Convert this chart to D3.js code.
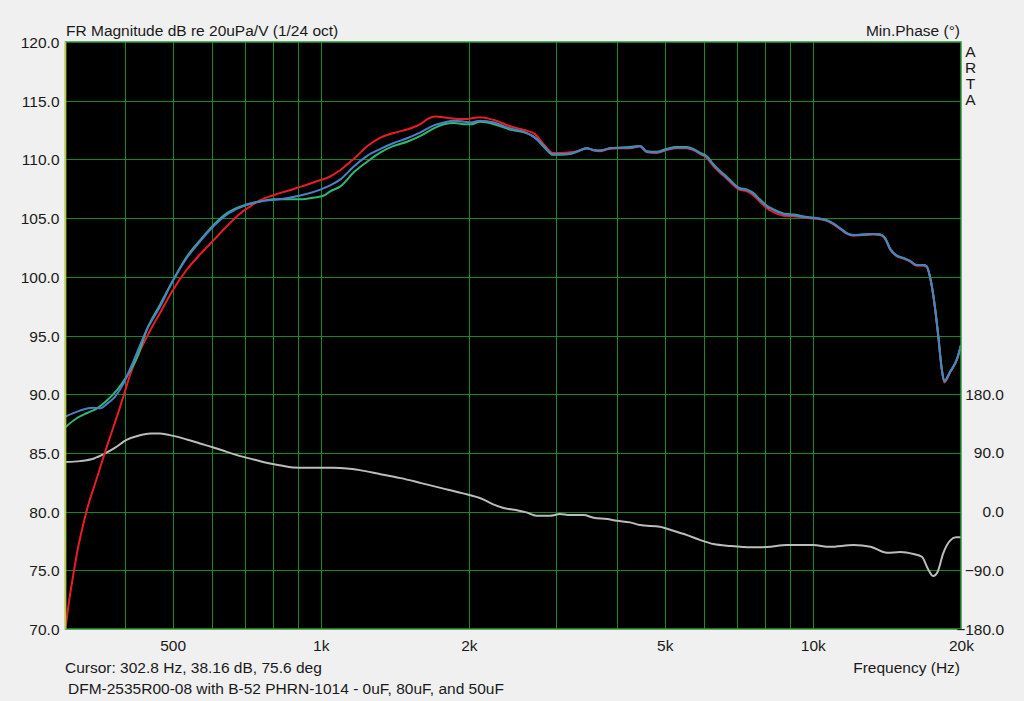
<!DOCTYPE html>
<html><head><meta charset="utf-8">
<script src="https://cdn.jsdelivr.net/npm/d3@7"></script>
<style>
body{margin:0;background:#f0f0f0;}
svg{display:block;}
text{font-family:"Liberation Sans",Arial,sans-serif;font-size:15.5px;fill:#1a1a1a;}
</style>
</head><body><svg id="c" width="1024" height="701"></svg>
<script>
// ---------- data ----------
const dbTicks = [70,75,80,85,90,95,100,105,110,115,120];
const phaseTicks = [-180,-90,0,90,180];
const freqTicks = [500,1000,2000,5000,10000,20000];
const freqTickLabels = ["500","1k","2k","5k","10k","20k"];
const gridFreqs = [400,500,600,700,800,900,1000,2000,3000,4000,5000,6000,7000,8000,9000,10000];

// high-frequency section shared frequencies
const highFreq = [3312,3471,3580,3693,3869,4057,4251,4454,4596,4813,5047,5287,5539,5711,5908,6096,6285,6484,6667,6879,7098,7323,7560,7800,8064,8317,8712,9140,9430,9732,10175,10697,11032,11380,11737,12105,12675,13270,13690,14018,14345,14800,15270,15750,16240,16750,17030,17300,17630,17960,18260,18500,19000,19650,20000];
const highBlue = [110.65,110.95,110.8,110.75,110.95,111.0,111.0,111.15,110.65,110.6,110.85,111.0,111.0,110.85,110.5,110.2,109.5,108.95,108.5,107.95,107.5,107.4,107.1,106.55,106.0,105.7,105.35,105.25,105.15,105.05,104.98,104.8,104.5,104.1,103.7,103.55,103.6,103.65,103.6,103.3,102.4,101.8,101.6,101.35,101.0,101.0,100.9,100.0,98.0,95.2,92.3,91.1,91.9,93.05,94.2];
const highRed = [110.7,110.95,110.75,110.7,110.9,110.95,110.95,111.1,110.6,110.55,110.8,110.95,110.95,110.8,110.45,110.1,109.4,108.85,108.4,107.85,107.4,107.3,106.95,106.4,105.85,105.5,105.2,105.15,105.1,105.0,104.95,104.75,104.45,104.05,103.65,103.5,103.55,103.6,103.55,103.25,102.35,101.75,101.55,101.3,100.95,100.95,100.85,99.95,97.9,95.1,92.2,91.0,91.85,93.0,94.15];
const highGreen = [110.65,110.95,110.8,110.75,110.95,111.0,111.05,111.15,110.7,110.65,110.9,111.05,111.05,110.9,110.55,110.25,109.55,109.0,108.55,108.0,107.55,107.45,107.15,106.6,106.05,105.75,105.4,105.3,105.2,105.1,105.0,104.8,104.5,104.1,103.7,103.55,103.6,103.65,103.6,103.3,102.4,101.8,101.6,101.35,101.0,101.0,100.9,100.0,98.0,95.2,92.3,91.1,91.9,93.05,94.2];

const redFreq = [302.8,307,314,321,329,337,346,354,362,374,386,397,410,429,451,471,501,534,568,605,644,686,719,751,800,860,915,975,1040,1096,1167,1250,1322,1407,1497,1594,1650,1710,1800,1900,1979,2106,2250,2419,2590,2717,2850,2960,3062,3209];
const redDb = [70.0,72.0,74.6,76.9,78.9,80.6,82.1,83.4,84.7,86.5,88.2,89.8,91.7,93.7,95.5,96.9,98.9,100.6,101.9,103.1,104.3,105.4,106.0,106.5,106.95,107.35,107.7,108.1,108.5,109.1,110.05,111.2,111.85,112.25,112.55,113.0,113.45,113.65,113.55,113.45,113.45,113.6,113.35,112.85,112.5,112.2,111.2,110.55,110.55,110.6];

const blueFreq = [302.8,324,344,356,368,382,397,416,443,471,501,534,568,605,644,685,729,775,824,877,935,995,1047,1096,1167,1242,1322,1407,1497,1594,1697,1780,1867,1958,2022,2106,2250,2419,2590,2717,2850,2960,3062,3209];
const blueDb = [88.1,88.6,88.85,88.8,89.2,89.8,90.9,92.8,95.5,97.45,99.7,101.6,103.0,104.3,105.3,105.9,106.3,106.5,106.6,106.8,107.05,107.4,107.8,108.3,109.4,110.3,110.9,111.4,111.8,112.3,112.9,113.15,113.3,113.2,113.15,113.3,113.15,112.65,112.35,111.9,111.1,110.45,110.45,110.5];

const greenFreq = [302.8,319,335,351,366,386,403,424,443,471,501,534,568,605,644,670,700,751,800,850,910,970,1012,1047,1096,1167,1242,1322,1407,1497,1594,1697,1780,1867,1958,2022,2106,2250,2419,2590,2717,2850,2960,3062,3209];
const greenDb = [87.2,87.95,88.4,88.8,89.4,90.4,91.5,93.2,95.5,97.6,99.7,101.7,103.1,104.4,105.4,105.8,106.1,106.4,106.6,106.6,106.6,106.75,106.9,107.3,107.7,108.9,109.8,110.6,111.15,111.5,112.0,112.65,113.0,113.1,113.0,113.0,113.2,113.0,112.55,112.3,111.9,111.0,110.4,110.4,110.45];

const phaseFreq = [302.8,324,346,362,380,402,429,451,471,501,534,568,605,644,686,730,775,824,877,935,995,1060,1130,1200,1322,1454,1600,1760,1935,2132,2235,2343,2497,2617,2743,2920,3060,3209,3420,3584,3818,3999,4251,4454,4887,5208,5550,5908,6285,6800,7495,8064,8850,10010,10820,12100,13100,14150,15060,16010,16650,17180,17560,17930,18400,19050,19550,20000];
const phaseDeg = [76,77.4,81.5,88,96.8,109.5,117.2,119.8,119.8,116.1,110.6,104.5,98.3,91.6,85,80,74.8,71.2,67.7,67.1,67.1,67.1,66.2,63.6,57.4,51.3,43.7,36.0,28.3,19.1,11.5,5.8,2.3,-1.2,-6.4,-6.4,-3.8,-5.4,-5.4,-9.5,-11.5,-14.1,-16.5,-20.7,-23.3,-29.4,-36,-43.7,-49.8,-52.8,-54.8,-54.4,-51.3,-51.3,-53.9,-51.3,-53.9,-63.1,-62,-65.1,-69.2,-89.6,-98.8,-92.2,-64,-43.7,-39.5,-39.5];

// ---------- layout ----------
const L=65.5, R=961, T=42, B=629;
const svg = d3.select("#c");
const x = d3.scaleLog().domain([302.8,20000]).range([L,R]);
const y = d3.scaleLinear().domain([70,120]).range([B,T]);
const yp = d3.scaleLinear().domain([-180,180]).range([B,y(90)]);

svg.append("rect").attr("x",L).attr("y",T).attr("width",R-L).attr("height",B-T).attr("fill","#000");

const grid = svg.append("g").attr("stroke","#138a26").attr("stroke-width",1).attr("shape-rendering","crispEdges");
grid.selectAll("line.v").data(gridFreqs).join("line").attr("class","v")
  .attr("x1",d=>Math.round(x(d))+0.5).attr("x2",d=>Math.round(x(d))+0.5).attr("y1",T).attr("y2",B);
grid.selectAll("line.h").data(dbTicks.slice(1,-1)).join("line").attr("class","h")
  .attr("x1",L).attr("x2",R).attr("y1",d=>Math.round(y(d))+0.5).attr("y2",d=>Math.round(y(d))+0.5);

svg.append("defs").append("clipPath").attr("id","clip").append("rect")
  .attr("x",L).attr("y",T).attr("width",R-L).attr("height",B-T);

const line = d3.line().x(d=>x(d[0])).y(d=>y(d[1])).curve(d3.curveMonotoneX);
const pline = d3.line().x(d=>x(d[0])).y(d=>yp(d[1])).curve(d3.curveMonotoneX);
const zip=(a,b)=>a.map((v,i)=>[v,b[i]]);
const redData = zip(redFreq,redDb).concat(zip(highFreq,highRed));
const blueData = zip(blueFreq,blueDb).concat(zip(highFreq,highBlue));
const greenData = zip(greenFreq,greenDb).concat(zip(highFreq,highGreen));
const phaseData = zip(phaseFreq,phaseDeg);

const plot = svg.append("g").attr("clip-path","url(#clip)").attr("fill","none").attr("stroke-width",2).attr("stroke-linejoin","round");
plot.append("path").datum(phaseData).attr("d",pline).attr("stroke","#bcbcbc");
plot.append("path").datum(redData).attr("d",line).attr("stroke","#ec1c24");
plot.append("path").datum(greenData).attr("d",line).attr("stroke","#2fb873");
plot.append("path").datum(blueData).attr("d",line).attr("stroke","#4c80c6");

// frame
svg.append("rect").attr("x",L).attr("y",T).attr("width",R-L).attr("height",B-T)
  .attr("fill","none").attr("stroke","#2a9a3a").attr("stroke-width",1.5);
svg.append("line").attr("x1",L).attr("x2",L).attr("y1",T).attr("y2",B).attr("stroke","#c8c832").attr("stroke-width",1.5);

// left axis
const ax = svg.append("g").attr("transform",`translate(${L},0)`)
  .call(d3.axisLeft(y).tickValues(dbTicks).tickFormat(d3.format(".1f")).tickSize(0).tickPadding(6));
ax.select(".domain").remove();
ax.selectAll(".tick line").remove();
ax.selectAll("text").attr("dy","0.36em");
ax.attr("font-size",null).attr("font-family",null);

// bottom axis labels
const bx = svg.append("g").attr("transform",`translate(0,${B})`)
  .call(d3.axisBottom(x).tickValues(freqTicks).tickFormat((d,i)=>freqTickLabels[i]).tickSize(0).tickPadding(11));
bx.select(".domain").remove();
bx.selectAll(".tick line").remove();
bx.attr("font-size",null).attr("font-family",null);

// right phase labels
svg.append("g").selectAll("text").data(phaseTicks).join("text")
  .attr("x",1004).attr("y",d=>yp(d)+5.5).attr("text-anchor","end").text(d=>d3.format(".1f")(d));

// titles
svg.append("text").attr("x",66).attr("y",36).text("FR Magnitude dB re 20uPa/V (1/24 oct)");
svg.append("text").attr("x",960).attr("y",36).attr("text-anchor","end").text("Min.Phase (°)");
svg.append("g").selectAll("text").data(["A","R","T","A"]).join("text")
  .attr("x",970.5).attr("y",(d,i)=>56.5+i*16.2).attr("text-anchor","middle").text(d=>d);
svg.append("text").attr("x",65).attr("y",673).text("Cursor: 302.8 Hz, 38.16 dB, 75.6 deg");
svg.append("text").attr("x",960).attr("y",673).attr("text-anchor","end").text("Frequency (Hz)");
svg.append("text").attr("x",68).attr("y",694).text("DFM-2535R00-08 with B-52 PHRN-1014 - 0uF, 80uF, and 50uF");
</script>
</body></html>
